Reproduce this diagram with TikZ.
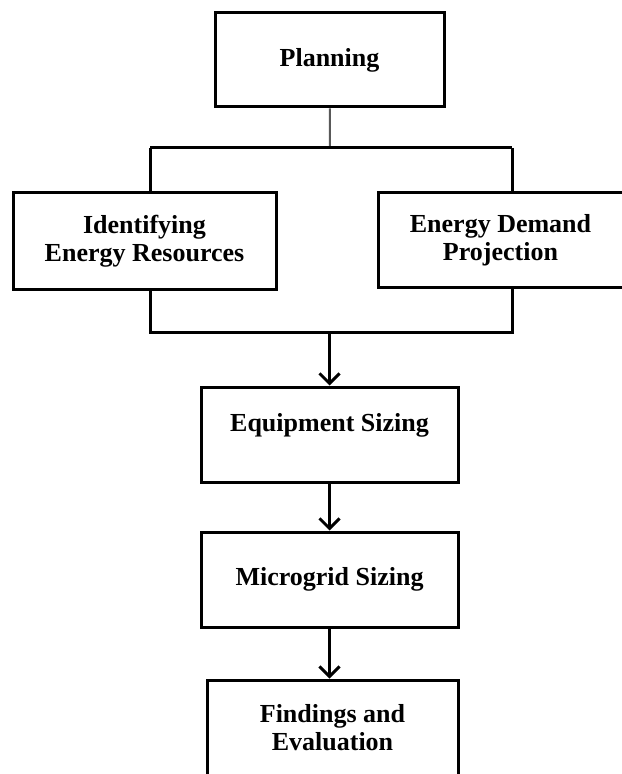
\documentclass[tikz,border=0pt]{standalone}
\usepackage{fontspec}
\setmainfont{Liberation Serif}
\usetikzlibrary{positioning,arrows.meta}

\begin{document}
\begin{tikzpicture}[x=0.5pt,y=-0.5pt]
        \tikzstyle{every node}=[font=\fontsize{13}{14}\selectfont\bfseries, align=center]
        \tikzstyle{box}=[draw, line width=1.5pt, inner sep=0pt, minimum height=47.5pt]
        \tikzstyle{link}=[line width=1.5pt]
        \tikzstyle{flow}=[link, -{Straight Barb[width=10pt,length=5pt,line width=1.5pt]}]

        \useasboundingbox (0,0) rectangle (621,774);

        % boxes
        \node[box, minimum width=114.5pt, minimum height=47pt] (plan)  at (329.5,60)    {Planning};
        \node[box, minimum width=131.5pt, minimum height=48.5pt] (ident) at (144.5,241.5) {Identifying\\Energy Resources};
        \node[box, minimum width=122.5pt] (demand) at (500.5,240.5) {Energy Demand\\Projection};
        \node[box, minimum width=128.5pt, text depth=12.5pt] (equip) at (329.5,434.5) {Equipment Sizing};
        \node[box, minimum width=128.5pt] (micro)  at (329.5,579.5) {Microgrid Sizing};
        \node[box, minimum width=125.5pt] (find)   at (332.5,727.5) {Findings and\\Evaluation};

        % bracket round the two middle boxes
        \coordinate (split) at (330,148);
        \coordinate (jl) at (150,148);
        \coordinate (jr) at (512,148);
        \coordinate (ml) at (150,333);
        \coordinate (mr) at (512,333);
        \coordinate (merge) at (329.5,333);

        \draw[line width=1pt, gray!70!black] (plan) -- (split);
        \draw[link] (jl) -- (jr);
        \draw[link] (jl) -- (jl |- ident.north);
        \draw[link] (jr) -- (jr |- demand.north);
        \draw[link] (ml |- ident.south) -- (ml) -- (mr) -- (mr |- demand.south);

        \draw[flow] (merge) -- (equip);
        \draw[flow] (equip) -- (micro);
        \draw[flow] (micro.south) -- (micro.south |- find.north);

    \end{tikzpicture}
\end{document}
